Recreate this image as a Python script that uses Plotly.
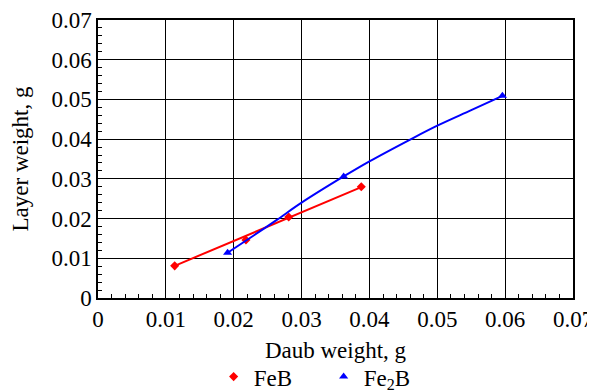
import plotly.graph_objects as go

# FeB data points
feb_x = [0.0113, 0.0218, 0.0281, 0.0388]
feb_y = [0.0081, 0.0146, 0.0204, 0.0280]
# FeB trend line
feb_fit_x = [0.0113, 0.0388]
feb_fit_y = [0.0081, 0.0279]

# Fe2B data points
fe2b_x = [0.0191, 0.0362, 0.0596]
fe2b_y = [0.0114, 0.0306, 0.0509]
# Fe2B trend curve
fe2b_fit_x = [0.0191, 0.0230, 0.0263, 0.0300, 0.0362, 0.0400, 0.0460, 0.0500, 0.0550, 0.0596]
fe2b_fit_y = [0.0114, 0.0158, 0.0196, 0.0240, 0.0306, 0.0344, 0.0399, 0.0434, 0.0473, 0.0509]

ticks = [0, 0.01, 0.02, 0.03, 0.04, 0.05, 0.06, 0.07]

FONT = "Liberation Serif"
FS = 23


def axis(title, standoff):
    return dict(
        range=[0, 0.07], tickmode="array", tickvals=ticks, automargin=False,
        showgrid=True, gridcolor="#000000", gridwidth=1,
        showline=True, linecolor="#000000", linewidth=1.5, mirror=True,
        ticks="inside", ticklen=6, tickcolor="#000000",
        minor=dict(ticks="inside", dtick=0.002, ticklen=4, tickcolor="#000000", showgrid=False),
        zeroline=False,
        tickfont=dict(family=FONT, size=FS, color="#000000"),
        title=dict(text=title, font=dict(family=FONT, size=FS, color="#000000"), standoff=standoff),
    )


fig = go.Figure()
fig.add_trace(go.Scatter(x=feb_fit_x, y=feb_fit_y, mode="lines",
                         line=dict(color="#ff0000", width=2), showlegend=False, hoverinfo="skip"))
fig.add_trace(go.Scatter(x=feb_x, y=feb_y, mode="markers", name="FeB",
                         marker=dict(symbol="diamond", color="#ff0000", size=7)))
fig.add_trace(go.Scatter(x=fe2b_fit_x, y=fe2b_fit_y, mode="lines",
                         line=dict(color="#0000ff", width=2, shape="spline", smoothing=1),
                         showlegend=False, hoverinfo="skip"))
fig.add_trace(go.Scatter(x=fe2b_x, y=fe2b_y, mode="markers", name="Fe<sub>2</sub>B",
                         marker=dict(symbol="triangle-up", color="#0000ff", size=8)))

fig.update_layout(
    width=595, height=392,
    margin=dict(l=90, r=30, t=12, b=102, autoexpand=False),
    paper_bgcolor="white", plot_bgcolor="white",
    font=dict(family=FONT, size=FS, color="#000000"),
    xaxis=axis("Daub weight, g", 11),
    yaxis=axis("Layer weight, g", 16),
    legend=dict(orientation="h", x=0.475, xanchor="center", y=-0.283, yanchor="middle",
                font=dict(family=FONT, size=FS), entrywidth=65, entrywidthmode="pixels",
                itemwidth=30),
    showlegend=True,
)

fig.write_html("out.html")
